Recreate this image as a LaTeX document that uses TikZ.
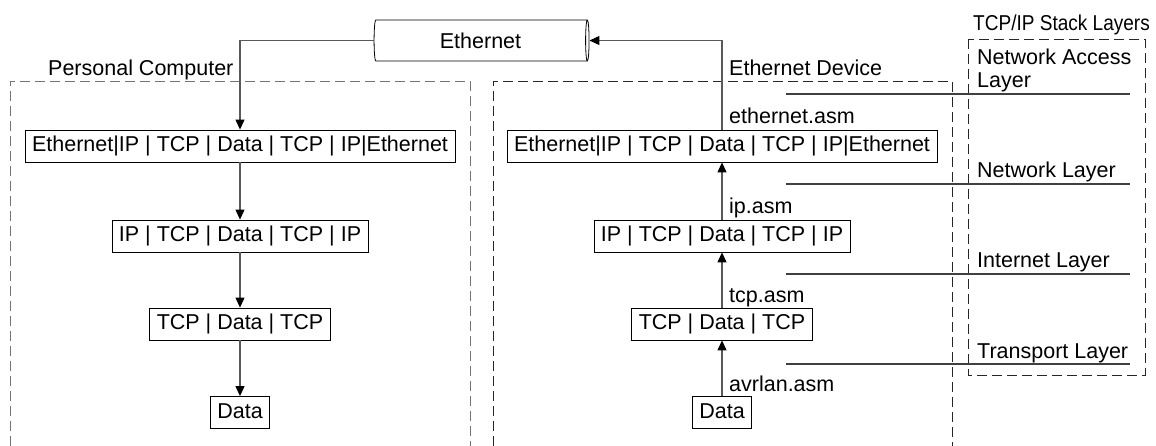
\documentclass[tikz,border=0pt]{standalone}
\usepackage{fontspec}
\setmainfont{Liberation Sans}
\usetikzlibrary{shapes.geometric,arrows.meta}

\tikzset{
  pkt/.style={draw,line width=0.8pt,inner xsep=7pt,inner ysep=0pt,minimum height=32pt,text height=15.5pt,text depth=4.5pt,font=\fontsize{21.5}{23}\selectfont},
  lbl/.style={inner sep=0pt,font=\fontsize{21.5}{23}\selectfont},
  conn/.style={draw=black!65,line width=1.1pt,-{Triangle[length=10pt,width=9pt,color=black]}},
  pcframe/.style={draw=black!55,line width=0.8pt,dash pattern=on 10pt off 5pt},
  devframe/.style={draw=black!85,line width=0.9pt,dash pattern=on 10pt off 5pt},
  lyr/.style={draw=black!75,line width=1.1pt}
}

\begin{document}
\begin{tikzpicture}[x=1pt,y=1pt,yscale=-1,xscale=1]
\useasboundingbox (0,0) rectangle (1156,446);

%Shape: Cylinder
\node[cylinder,draw,line width=0.8pt,aspect=0.22,minimum height=215pt,minimum width=41pt,inner sep=0pt,font=\fontsize{21.5}{23}\selectfont] (eth) at (480.5,40.5) {Ethernet};

%Shape: Frame
\draw[pcframe] (10,446) -- (10,81) -- (470,81) -- (470,446);
%Shape: Frame
\draw[devframe] (493,446) -- (493,81) -- (952,81) -- (952,446);
%Shape: Frame
\draw[devframe] (968,39) rectangle (1145,375);

% Text Node
\node[lbl,anchor=base west] (pctitle) at (48,76) {Personal Computer};
% Text Node
\node[lbl,anchor=base west] (devtitle) at (729,76) {Ethernet Device};
% Text Node
\node[lbl,anchor=base west] (stacktitle) at (973,31) {\scalebox{0.885}[1]{TCP/IP Stack Layers}};

% Packet Nodes
\node[pkt] (pc1) at (240,146) {Ethernet|IP | TCP | Data | TCP | IP|Ethernet};
\node[pkt] (pc2) at (240,236) {IP | TCP | Data | TCP | IP};
\node[pkt] (pc3) at (240,324) {TCP | Data | TCP};
\node[pkt] (pc4) at (240,412.5) {Data};

\node[pkt] (dev1) at (722,146) {Ethernet|IP | TCP | Data | TCP | IP|Ethernet};
\node[pkt] (dev2) at (722,236) {IP | TCP | Data | TCP | IP};
\node[pkt] (dev3) at (722,324) {TCP | Data | TCP};
\node[pkt] (dev4) at (722,412.5) {Data};

% Connectors
\draw[conn] (eth.west) -| (pc1.north);
\draw[conn] (pc1.south) -- (pc2.north);
\draw[conn] (pc2.south) -- (pc3.north);
\draw[conn] (pc3.south) -- (pc4.north);

\draw[conn] (dev4.north) -- (dev3.south);
\draw[conn] (dev3.north) -- (dev2.south);
\draw[conn] (dev2.north) -- (dev1.south);
\draw[conn] (dev1.north) |- (eth.east);

% Text Node
\node[lbl,anchor=base west] (asmeth) at (729,124) {ethernet.asm};
% Text Node
\node[lbl,anchor=base west] (asmip) at (729,214) {ip.asm};
% Text Node
\node[lbl,anchor=base west] (asmtcp) at (729,302) {tcp.asm};
% Text Node
\node[lbl,anchor=base west] (asmlan) at (729,391) {avrlan.asm};

%Shape: Layer lines
\draw[lyr] (786,94) -- (1130,94);
\draw[lyr] (786,184) -- (1130,184);
\draw[lyr] (786,274) -- (1130,274);
\draw[lyr] (786,364) -- (1130,364);

% Text Node
\node[lbl,anchor=north west,align=left] (laccess) at (977,49) {Network Access\\Layer};
% Text Node
\node[lbl,anchor=base west] (lnetwork) at (977,178) {Network Layer};
% Text Node
\node[lbl,anchor=base west] (linternet) at (977,268) {Internet Layer};
% Text Node
\node[lbl,anchor=base west] (ltransport) at (977,358) {Transport Layer};

\end{tikzpicture}
\end{document}
